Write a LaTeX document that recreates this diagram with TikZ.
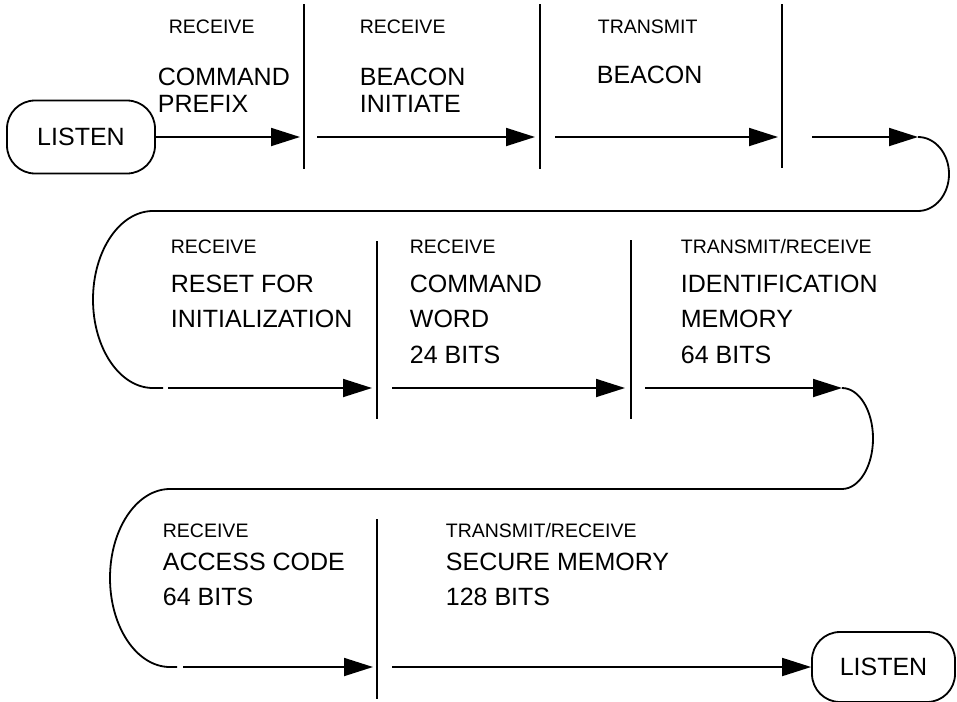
\documentclass[tikz,border=0pt]{standalone}
\usepackage{fontspec}
\setmainfont{Liberation Sans}
\usetikzlibrary{arrows.meta, calc}
\tikzset{
  flow/.style = {
    line width=1.8pt,
    >={Triangle[length=29pt, width=18pt]},
  },
  term/.style = {
    rectangle, rounded corners=28pt, draw, minimum width=148pt,
    minimum height=73pt, inner sep=0pt, font=\fontsize{25}{30}\selectfont,
  },
  mode/.style = {
    anchor=west, inner sep=0pt, font=\fontsize{19.5}{24}\selectfont,
  },
  field/.style = {
    anchor=north west, inner sep=0pt, align=left,
    font=\fontsize{25}{35.5}\selectfont,
  },
  sep/.style = {inner sep=0pt, minimum width=0pt},
  arr/.style = {->},
  wrap/.style = {line join=round},
}

\begin{document}
\begin{tikzpicture}[flow, x=1pt, y=1pt,
  tight/.style = {field, font=\fontsize{25}{27}\selectfont}]
\useasboundingbox (0,0) rectangle (957,-701);

% rows
\coordinate (r1) at (0,-137);
\coordinate (r2) at (0,-388);
\coordinate (r3) at (0,-667);

% separators
\node[sep, minimum height=163pt] (s1) at (304,-86.5) {};
\node[sep, minimum height=163pt] (s2) at (540,-86.5) {};
\node[sep, minimum height=162pt] (s3) at (782,-86)   {};
\node[sep, minimum height=176pt] (s4) at (377,-330)  {};
\node[sep, minimum height=177pt] (s5) at (631,-329.5) {};
\node[sep, minimum height=178pt] (s6) at (377,-609)  {};
\foreach \s in {s1,s2,s3,s4,s5,s6}
  \draw (\s.north) -- (\s.south);

\node[term, minimum width=148pt] (lst1) at (81,-137)    {LISTEN};
\node[term, minimum width=143pt, minimum height=70pt] (lst2) at (883.5,-667) {LISTEN};

% row 1
\node[mode]  (rx1) at (168,-27) {RECEIVE};
\node[tight] (cp)  at (157,-67) {COMMAND\\PREFIX};
\node[mode]  (rx2) at (359,-27) {RECEIVE};
\node[tight] (bi)  at (359,-67) {BEACON\\INITIATE};
\node[mode]  (tx1) at (597,-27) {TRANSMIT};
\node[tight] (bc)  at (596,-65) {BEACON};

% row 2
\node[mode]  (rx3)  at (170,-247) {RECEIVE};
\node[field] (ri)   at (170,-274) {RESET FOR\\INITIALIZATION};
\node[mode]  (rx4)  at (409,-247) {RECEIVE};
\node[field] (cw)   at (409,-274) {COMMAND\\WORD\\24 BITS};
\node[mode]  (trx1) at (680,-247) {TRANSMIT/RECEIVE};
\node[field] (im)   at (680,-274) {IDENTIFICATION\\MEMORY\\64 BITS};

% row 3
\node[mode]  (rx5)  at (162,-531) {RECEIVE};
\node[field] (ac)   at (162,-552) {ACCESS CODE\\64 BITS};
\node[mode]  (trx2) at (445,-531) {TRANSMIT/RECEIVE};
\node[field] (sm)   at (445,-552) {SECURE MEMORY\\128 BITS};

\coordinate (tn1) at (918,-137);
\coordinate (tn2) at (163,-388);
\coordinate (tm1) at (842,-388);
\coordinate (tm2) at (177,-667);

\draw[arr, shorten >=4pt] (lst1.east) -- (lst1.east -| s1);
\draw[arr, shorten <=13pt, shorten >=5pt] (s1 |- r1) -- (s2 |- r1);
\draw[arr, shorten <=15pt, shorten >=4pt] (s2 |- r1) -- (s3 |- r1);
\draw[arr, shorten <=30pt] (s3 |- r1) -- (tn1);
\draw[wrap] (tn1) arc[start angle=90, end angle=-90, x radius=31, y radius=37]
  -- (153,-211) arc[start angle=90, end angle=270, x radius=60, y radius=88.5]
  -- (tn2);

\draw[arr, shorten <=5pt, shorten >=5pt] (tn2) -- (s4 |- r2);
\draw[arr, shorten <=15pt, shorten >=6pt] (s4 |- r2) -- (s5 |- r2);
\draw[arr, shorten <=14pt] (s5 |- r2) -- (tm1);
\draw[wrap] (tm1) arc[start angle=90, end angle=-90, x radius=31, y radius=50.5]
  -- (170,-489) arc[start angle=90, end angle=270, x radius=60, y radius=89]
  -- (tm2);

\draw[arr, shorten <=6pt, shorten >=4pt] (tm2) -- (s6 |- r3);
\draw[arr, shorten <=15pt] (s6 |- r3) -- (lst2.west);

\end{tikzpicture}
\end{document}
